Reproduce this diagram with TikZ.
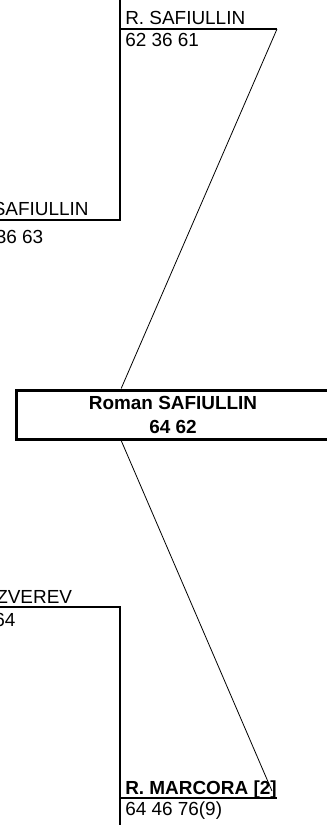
\documentclass[tikz,border=0pt]{standalone}
\usepackage{fontspec}
\setmainfont{Liberation Sans}
\usetikzlibrary{positioning}

\begin{document}
\begin{tikzpicture}[x=0.75pt, y=-0.75pt, every node/.style={font=\fontsize{14.2}{18}\selectfont, inner sep=0pt, anchor=base west}]
      \tikzset{bracket/.style={line width=1.5pt},
               link/.style={line width=0.6pt},
               winner/.style={font=\fontsize{14.2}{18}\selectfont\bfseries},
               finalbox/.style={draw, line width=2.25pt, anchor=center, align=center, minimum width=235.5pt, minimum height=36.75pt, winner}}
      \useasboundingbox (0,0) rectangle (327,825);

      % Upper half bracket
      \coordinate (uptop) at (120,-6);
      \coordinate (upfoot) at (120,220);
      \coordinate (upleft) at (-40,220);
      \coordinate (upjoin) at (120,29);
      \coordinate (upwin) at (277,29);
      \draw[bracket] (uptop) -- (upfoot) -- (upleft);
      \draw[bracket] (upjoin) -- (upwin);

      % Lower half bracket
      \coordinate (lowleft) at (-40,607);
      \coordinate (lowhead) at (120,607);
      \coordinate (lowend) at (120,832);
      \coordinate (lowjoin) at (120,798);
      \coordinate (lowwin) at (277,798);
      \draw[bracket] (lowleft) -- (lowhead) -- (lowend);
      \draw[bracket] (lowjoin) -- (lowwin);

      % Players and scores
      \node (sf1name) at (125,24.5) {R. SAFIULLIN};
      \node (sf1score) at (125,46.5) {62 36 61};
      \node (qf1name) at (-7.5,215.5) {SAFIULLIN};
      \node (qf1score) at (-4.5,243) {36 63};
      \node (qf2name) at (-4,603) {ZVEREV};
      \node (qf2score) at (-6,626) {64};
      \node[winner] (sf2name) at (125,794) {R. MARCORA [2]};
      \node (sf2score) at (125,815.5) {64 46 76(9)};

      % Final
      \node[finalbox] (final) at (173,414.5) {Roman SAFIULLIN\\64 62};
      \coordinate (sf2tip) at (272,791);

      % Links
      \draw[link] (upwin) -- ([xshift=80pt]final.north west);
      \draw[link] ([xshift=80pt]final.south west) -- (sf2tip);
    \end{tikzpicture}
\end{document}
